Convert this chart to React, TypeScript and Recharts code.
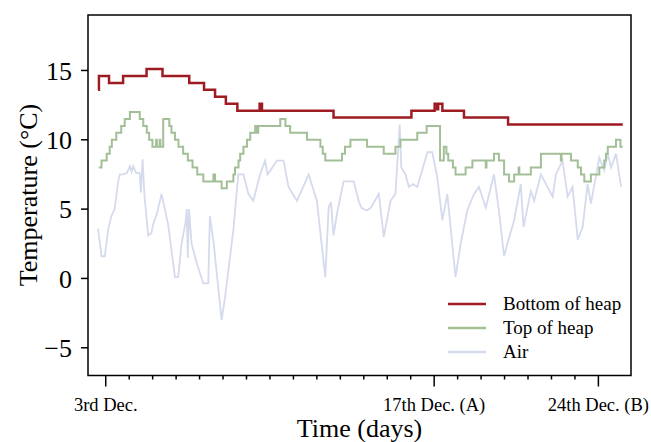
import { LineChart, Line, XAxis, YAxis, ReferenceArea } from 'recharts'

const FONT = "'Liberation Serif', 'Times New Roman', serif"

// Bottom of heap (stepped readings)
const bottomDays = [2.67, 2.71, 3.14, 3.74, 4.74, 5.42, 6.56, 7.19, 7.66, 8.12, 8.61, 9.56, 9.66, 12.71, 16.03, 17.02, 17.13, 17.17, 17.35, 18.27, 20.15, 25.04]
const bottomTemps = [13.6, 14.6, 14.1, 14.6, 15.1, 14.6, 14.1, 13.6, 13.1, 12.6, 12.1, 12.6, 12.1, 11.6, 12.1, 12.6, 12.2, 12.6, 12.1, 11.6, 11.1, 11.1]

// Top of heap (stepped readings)
const topDays = [
  2.71, 2.82, 3.04, 3.17, 3.26, 3.45, 3.66, 3.81, 4.03, 4.45, 4.6, 4.75, 4.85, 4.99, 5.15, 5.18, 5.3, 5.33,
  5.45, 5.71, 5.8, 5.95, 6.1, 6.3, 6.5, 6.7, 6.9, 7.16, 7.59, 7.66, 7.94, 8.16, 8.44, 8.51, 8.66, 8.73, 8.87,
  9.02, 9.16, 9.37, 9.45, 9.5, 10.44, 10.66, 10.86, 11.58, 12.15, 12.25, 12.36, 13.07, 13.2, 13.43, 14.14,
  14.85, 15.35, 15.56, 16.28, 16.68, 17.25, 17.41, 17.52, 17.6, 17.8, 17.91, 18.34, 18.63, 19.2, 19.23, 19.55,
  19.76, 19.98, 20.19, 20.41, 20.6, 20.63, 21.12, 21.55, 22.4, 22.43, 22.83, 23.12, 23.26, 23.4, 23.68, 24.04,
  24.25, 24.32, 24.4, 24.75, 24.94, 25.04,
]
const topTemps = [
  8.0, 8.5, 9.0, 9.5, 10.0, 10.5, 11.0, 11.5, 12.0, 11.5, 11.0, 10.5, 10.0, 9.5, 10.0, 9.5, 10.0, 9.5,
  11.5, 11.0, 10.5, 10.0, 9.5, 9.0, 8.5, 8.0, 7.5, 7.0, 7.5, 7.0, 6.5, 7.0, 7.5, 8.0, 8.5, 9.0, 9.5,
  10.0, 10.5, 11.0, 10.5, 11.0, 11.5, 11.0, 10.5, 10.0, 9.5, 9.0, 8.5, 9.0, 9.5, 10.0, 9.5,
  9.0, 9.5, 10.0, 10.5, 11.0, 8.5, 9.5, 9.0, 8.5, 8.0, 7.5, 8.0, 8.5, 8.0, 8.5, 9.0,
  8.5, 7.5, 7.0, 7.5, 8.0, 7.5, 8.0, 9.0, 8.5, 9.0, 8.5, 8.0, 7.5, 7.0, 7.5, 8.0,
  8.5, 9.0, 9.5, 10.0, 9.5, 9.5,
]

// Air
const airDays = [
  2.67, 2.82, 2.96, 3.1, 3.24, 3.38, 3.53, 3.6, 3.74, 3.9, 4.03, 4.1, 4.17, 4.3, 4.45, 4.5, 4.57, 4.65,
  4.81, 4.95, 5.02, 5.17, 5.38, 5.52, 5.66, 5.95, 6.09, 6.23, 6.4, 6.45, 6.5, 6.55, 6.66, 6.88, 7.16, 7.37,
  7.44, 7.59, 7.94, 8.09, 8.23, 8.44, 8.65, 8.87, 9.08, 9.29, 9.58, 9.79, 9.9, 10.1, 10.3, 10.58, 10.79,
  11.15, 11.65, 12.0, 12.36, 12.5, 12.6, 12.71, 12.86, 13.14, 13.57, 13.78, 13.9, 14.14, 14.3, 14.64,
  14.85, 15.14, 15.35, 15.53, 15.6, 15.78, 15.92, 16.1, 16.28, 16.49, 16.71, 16.92, 17.13, 17.35, 17.56,
  17.91, 18.13, 18.41, 18.7, 18.91, 19.2, 19.55, 19.76, 19.98, 20.12, 20.41, 20.69, 20.81, 21.12, 21.26,
  21.55, 22.05, 22.19, 22.47, 22.69, 22.9, 23.12, 23.33, 23.54, 23.68, 24.04, 24.25, 24.4, 24.54, 24.75, 24.97,
]
const airTemps = [
  3.6, 1.6, 1.6, 3.5, 4.5, 5.0, 7.0, 7.5, 7.5, 7.6, 8.1, 7.7, 8.1, 7.6, 7.6, 6.2, 8.6, 6.0,
  3.1, 3.3, 3.9, 4.6, 6.1, 5.0, 3.9, 0.1, 0.1, 2.5, 4.0, 5.0, 1.5, 5.0, 2.5, 1.1, -0.35, -0.35,
  4.5, 2.7, -3.0, -1.3, 0.6, 3.5, 7.5, 7.5, 6.1, 5.6, 7.5, 8.5, 7.5, 8.0, 8.5, 8.5, 6.6,
  5.6, 7.5, 5.6, 0.1, 5.1, 5.5, 3.1, 4.7, 7.0, 7.0, 5.6, 5.1, 4.9, 5.1, 6.1,
  3.0, 5.6, 6.1, 11.1, 8.0, 7.5, 6.6, 6.8, 6.6, 7.8, 9.1, 9.1, 7.3, 4.2, 6.1,
  0.1, 2.5, 4.9, 6.1, 6.6, 5.1, 7.5, 4.9, 1.6, 2.5, 4.2, 6.8, 3.7, 6.3, 5.6,
  7.5, 5.9, 7.5, 8.5, 5.9, 6.6, 2.8, 3.7, 6.8, 5.4, 8.7, 7.8, 9.0, 8.0, 9.0, 6.6,
]

const tickDays = [3, 4, 5, 6, 7, 8, 9, 10, 11, 12, 13, 14, 15, 16, 17, 18, 19, 20, 21, 22, 23, 24]
const labelDays = [3, 17, 24]
const labelTexts = ['3rd Dec.', '17th Dec. (A)', '24th Dec. (B)']
const tempTicks = [-5, 0, 5, 10, 15]

const seriesNames = ['Bottom of heap', 'Top of heap', 'Air']
const seriesColors = ['#9e1b22', '#a3bf97', '#d5daed']

const X_DOMAIN: [number, number] = [2.244, 25.39]
const Y_DOMAIN: [number, number] = [-7, 19]

const zip = (days: number[], temps: number[]) => days.map((t, i) => ({ t, v: temps[i] }))

const bottomData = zip(bottomDays, bottomTemps)
const topData = zip(topDays, topTemps)
const airData = zip(airDays, airTemps)

function DayTick({ x, y, payload }: { x?: number; y?: number; payload?: { value: number } }) {
  if (x == null || y == null || !payload) return null
  const i = labelDays.indexOf(payload.value)
  const major = i >= 0
  return (
    <g>
      <line x1={x} x2={x} y1={y} y2={y + (major ? 11 : 4)} stroke="#000" strokeWidth={1.5} />
      {major && (
        <text x={x} y={y + 35} textAnchor="middle" fontSize={18.5} fontFamily={FONT} fill="#000">
          {labelTexts[i]}
        </text>
      )}
    </g>
  )
}

function XTitle() {
  return (
    <text x={359.5} y={437} textAnchor="middle" fontSize={26} fontFamily={FONT} fill="#000">
      Time (days)
    </text>
  )
}

function YTitle() {
  return (
    <text transform="translate(37,195) rotate(-90)" textAnchor="middle" fontSize={26} fontFamily={FONT} fill="#000">
      Temperature (°C)
    </text>
  )
}

export default function App() {
  const lineData = [bottomData, topData, airData]
  const widths = [2.5, 2, 1.8]

  return (
    <div style={{ position: 'absolute', left: 0, top: 0, width: 651, height: 442, background: '#fff' }}>
      <LineChart width={651} height={442} margin={{ top: 15, right: 20, bottom: 0, left: 0 }}>
        <XAxis
          type="number"
          dataKey="t"
          domain={X_DOMAIN}
          allowDataOverflow
          ticks={tickDays}
          interval={0}
          height={66.5}
          tickSize={0}
          tickMargin={0}
          tickLine={false}
          axisLine={false}
          tick={<DayTick />}
          label={<XTitle />}
        />
        <YAxis
          type="number"
          domain={Y_DOMAIN}
          allowDataOverflow
          ticks={tempTicks}
          width={88}
          tickSize={7}
          tickMargin={9}
          axisLine={false}
          tickLine={{ stroke: '#000', strokeWidth: 1.5 }}
          tick={{ fontSize: 26, fontFamily: FONT, fill: '#000' }}
          tickFormatter={(v: number) => (v < 0 ? `\u2212${Math.abs(v)}` : `${v}`)}
          label={<YTitle />}
        />
        {[2, 1, 0].map((k) => (
          <Line
            key={seriesNames[k]}
            data={lineData[k]}
            dataKey="v"
            name={seriesNames[k]}
            type={k === 2 ? 'linear' : 'stepAfter'}
            stroke={seriesColors[k]}
            strokeWidth={widths[k]}
            dot={false}
            activeDot={false}
            isAnimationActive={false}
          />
        ))}
        <ReferenceArea
          x1={X_DOMAIN[0]}
          x2={X_DOMAIN[1]}
          y1={Y_DOMAIN[0]}
          y2={Y_DOMAIN[1]}
          fill="none"
          stroke="#000"
          strokeWidth={1.5}
          ifOverflow="visible"
        />
      </LineChart>
      <div style={{ position: 'absolute', left: 448, top: 292, fontFamily: FONT, fontSize: 19, lineHeight: '24px' }}>
        {seriesNames.map((name, k) => (
          <div key={name} style={{ display: 'flex', alignItems: 'center', height: 24 }}>
            <svg width={38} height={6} style={{ marginRight: 17 }}>
              <line x1={0} x2={38} y1={3} y2={3} stroke={seriesColors[k]} strokeWidth={2.5} />
            </svg>
            <span>{name}</span>
          </div>
        ))}
      </div>
    </div>
  )
}
